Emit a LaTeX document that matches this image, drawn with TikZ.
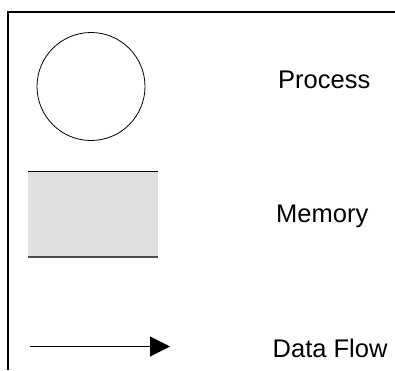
\documentclass[tikz,border=0pt]{standalone}
\usepackage{fontspec}
\setmainfont{Liberation Sans}
\usetikzlibrary{arrows.meta}
\begin{document}
\begin{tikzpicture}[x=1pt,y=-1pt,
  frame/.style={line width=2pt,black},
  label/.style={anchor=base west,inner sep=0pt,font=\fontsize{25.5}{28}\selectfont},
  flow/.style={line width=1pt,-{Triangle[length=20pt,width=20pt]}}]
\useasboundingbox (0,0) rectangle (395,370);
\coordinate (ftl) at (7.7,12);
\coordinate (ftr) at (395,12);
\coordinate (fbl) at (7.7,370);
\draw[frame] (ftr) -- (ftl) -- (fbl);
% process
\node[draw,circle,line width=0.8pt,minimum size=108pt,inner sep=0pt] (proc) at (91,86.5) {};
\node[label] (ptext) at (278,88) {Process};
% memory
\fill[gray!25] (28,171) rectangle (158,257);
\coordinate (mtl) at (28,171);
\coordinate (mtr) at (158,171);
\coordinate (mbl) at (28,257);
\coordinate (mbr) at (158,257);
\draw[line width=0.9pt,black] (mtl) -- (mtr);
\draw[line width=1.7pt,black!70] (mbl) -- (mbr);
\node[label] (mtext) at (276,222) {Memory};
% data flow
\coordinate (fa) at (30,346.5);
\coordinate (fb) at (170,346.5);
\draw[flow] (fa) -- (fb);
\node[label] (dtext) at (272.5,357) {Data Flow};
\end{tikzpicture}
\end{document}
